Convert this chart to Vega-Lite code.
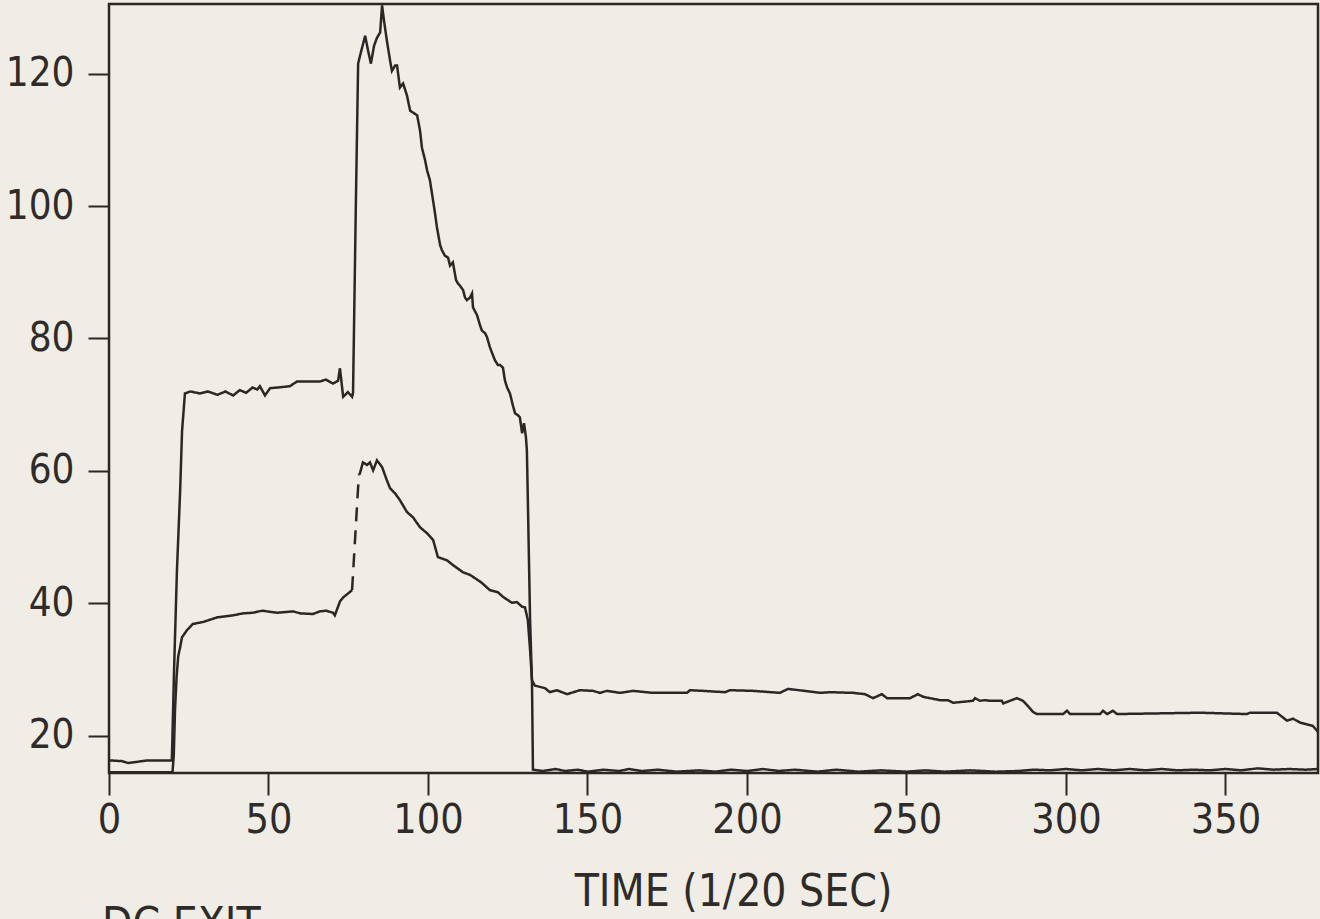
{
  "$schema": "https://vega.github.io/schema/vega-lite/v6.json",
  "autosize": {"type": "none"},
  "width": 1209,
  "height": 769,
  "padding": {"left": 109, "top": 4, "right": 2, "bottom": 160},
  "background": "#efede5",
  "config": {
    "view": {"stroke": "#2b2725", "strokeWidth": 2.5},
    "font": "DejaVu Sans Condensed, DejaVu Sans, sans-serif"
  },
  "title": {
    "text": "DC EXIT",
    "orient": "bottom",
    "anchor": "start",
    "frame": "group",
    "dx": -7,
    "offset": -10,
    "fontSize": 44,
    "fontWeight": "normal",
    "color": "#2f2b29",
    "font": "DejaVu Sans Condensed, DejaVu Sans, sans-serif"
  },
  "data": {
    "values": [
      {"t": 0, "v": 16.3, "s": "upper"},
      {"t": 4, "v": 16.2, "s": "upper"},
      {"t": 6, "v": 15.9, "s": "upper"},
      {"t": 9, "v": 16.1, "s": "upper"},
      {"t": 12, "v": 16.3, "s": "upper"},
      {"t": 16, "v": 16.3, "s": "upper"},
      {"t": 19.7, "v": 16.3, "s": "upper"},
      {"t": 20.4, "v": 30, "s": "upper"},
      {"t": 21.3, "v": 45, "s": "upper"},
      {"t": 22.3, "v": 57, "s": "upper"},
      {"t": 22.9, "v": 66, "s": "upper"},
      {"t": 23.8, "v": 71.7, "s": "upper"},
      {"t": 25.5, "v": 72.0, "s": "upper"},
      {"t": 28.5, "v": 71.7, "s": "upper"},
      {"t": 31, "v": 72.0, "s": "upper"},
      {"t": 34, "v": 71.5, "s": "upper"},
      {"t": 36.5, "v": 72.0, "s": "upper"},
      {"t": 38.9, "v": 71.4, "s": "upper"},
      {"t": 41, "v": 72.2, "s": "upper"},
      {"t": 43, "v": 71.8, "s": "upper"},
      {"t": 45, "v": 72.6, "s": "upper"},
      {"t": 46.5, "v": 72.3, "s": "upper"},
      {"t": 47.3, "v": 72.8, "s": "upper"},
      {"t": 48.9, "v": 71.4, "s": "upper"},
      {"t": 50.5, "v": 72.5, "s": "upper"},
      {"t": 53, "v": 72.6, "s": "upper"},
      {"t": 56.7, "v": 72.8, "s": "upper"},
      {"t": 58.9, "v": 73.5, "s": "upper"},
      {"t": 63.0, "v": 73.5, "s": "upper"},
      {"t": 66.1, "v": 73.5, "s": "upper"},
      {"t": 68, "v": 73.8, "s": "upper"},
      {"t": 70.2, "v": 73.2, "s": "upper"},
      {"t": 71.8, "v": 73.6, "s": "upper"},
      {"t": 72.4, "v": 75.5, "s": "upper"},
      {"t": 73.4, "v": 71.2, "s": "upper"},
      {"t": 74.9, "v": 71.9, "s": "upper"},
      {"t": 76.2, "v": 71.2, "s": "upper"},
      {"t": 76.5, "v": 71.8, "s": "upper"},
      {"t": 77.4, "v": 100.8, "s": "upper"},
      {"t": 78.1, "v": 121.5, "s": "upper"},
      {"t": 78.7, "v": 122.7, "s": "upper"},
      {"t": 80.3, "v": 125.7, "s": "upper"},
      {"t": 81.2, "v": 123.5, "s": "upper"},
      {"t": 82.1, "v": 121.5, "s": "upper"},
      {"t": 83.1, "v": 124.2, "s": "upper"},
      {"t": 84.0, "v": 125.4, "s": "upper"},
      {"t": 85.0, "v": 126.2, "s": "upper"},
      {"t": 85.6, "v": 130.3, "s": "upper"},
      {"t": 86.2, "v": 128.0, "s": "upper"},
      {"t": 87.1, "v": 125.0, "s": "upper"},
      {"t": 88.1, "v": 122.0, "s": "upper"},
      {"t": 88.7, "v": 120.4, "s": "upper"},
      {"t": 89.7, "v": 121.2, "s": "upper"},
      {"t": 90.3, "v": 121.2, "s": "upper"},
      {"t": 91.2, "v": 117.9, "s": "upper"},
      {"t": 92.2, "v": 118.5, "s": "upper"},
      {"t": 93.4, "v": 116.7, "s": "upper"},
      {"t": 94.4, "v": 114.4, "s": "upper"},
      {"t": 95.6, "v": 114.0, "s": "upper"},
      {"t": 96.6, "v": 113.7, "s": "upper"},
      {"t": 97.5, "v": 111.4, "s": "upper"},
      {"t": 98.1, "v": 108.8, "s": "upper"},
      {"t": 99.1, "v": 106.9, "s": "upper"},
      {"t": 99.7, "v": 105.4, "s": "upper"},
      {"t": 100.6, "v": 103.9, "s": "upper"},
      {"t": 101.6, "v": 100.8, "s": "upper"},
      {"t": 102.2, "v": 98.9, "s": "upper"},
      {"t": 102.8, "v": 96.8, "s": "upper"},
      {"t": 103.8, "v": 94.1, "s": "upper"},
      {"t": 104.4, "v": 93.3, "s": "upper"},
      {"t": 105.3, "v": 92.5, "s": "upper"},
      {"t": 106.3, "v": 92.2, "s": "upper"},
      {"t": 106.9, "v": 91.0, "s": "upper"},
      {"t": 107.8, "v": 91.5, "s": "upper"},
      {"t": 108.8, "v": 88.8, "s": "upper"},
      {"t": 109.4, "v": 88.3, "s": "upper"},
      {"t": 110.0, "v": 88.0, "s": "upper"},
      {"t": 111.0, "v": 87.3, "s": "upper"},
      {"t": 111.6, "v": 86.2, "s": "upper"},
      {"t": 112.2, "v": 85.8, "s": "upper"},
      {"t": 113.2, "v": 86.2, "s": "upper"},
      {"t": 113.8, "v": 86.8, "s": "upper"},
      {"t": 114.1, "v": 84.7, "s": "upper"},
      {"t": 115.4, "v": 83.5, "s": "upper"},
      {"t": 116.3, "v": 82.0, "s": "upper"},
      {"t": 116.9, "v": 81.2, "s": "upper"},
      {"t": 117.9, "v": 80.8, "s": "upper"},
      {"t": 118.5, "v": 80.2, "s": "upper"},
      {"t": 119.4, "v": 78.7, "s": "upper"},
      {"t": 120.1, "v": 77.8, "s": "upper"},
      {"t": 121.0, "v": 76.7, "s": "upper"},
      {"t": 121.9, "v": 76.0, "s": "upper"},
      {"t": 122.6, "v": 76.0, "s": "upper"},
      {"t": 123.5, "v": 75.6, "s": "upper"},
      {"t": 124.1, "v": 73.7, "s": "upper"},
      {"t": 124.8, "v": 72.6, "s": "upper"},
      {"t": 125.7, "v": 71.7, "s": "upper"},
      {"t": 126.6, "v": 69.9, "s": "upper"},
      {"t": 127.3, "v": 68.7, "s": "upper"},
      {"t": 128.2, "v": 68.4, "s": "upper"},
      {"t": 128.8, "v": 68.1, "s": "upper"},
      {"t": 129.5, "v": 65.7, "s": "upper"},
      {"t": 130.1, "v": 67.2, "s": "upper"},
      {"t": 130.7, "v": 65.1, "s": "upper"},
      {"t": 131.0, "v": 63.1, "s": "upper"},
      {"t": 131.3, "v": 55.6, "s": "upper"},
      {"t": 132.0, "v": 37.5, "s": "upper"},
      {"t": 132.6, "v": 28.0, "s": "upper"},
      {"t": 132.9, "v": 14.9, "s": "upper"},
      {"t": 136, "v": 14.7, "s": "upper"},
      {"t": 140, "v": 15.0, "s": "upper"},
      {"t": 143, "v": 14.7, "s": "upper"},
      {"t": 147, "v": 14.9, "s": "upper"},
      {"t": 150, "v": 14.6, "s": "upper"},
      {"t": 155, "v": 14.9, "s": "upper"},
      {"t": 160, "v": 14.7, "s": "upper"},
      {"t": 163, "v": 15.0, "s": "upper"},
      {"t": 167, "v": 14.7, "s": "upper"},
      {"t": 172, "v": 14.9, "s": "upper"},
      {"t": 178, "v": 14.6, "s": "upper"},
      {"t": 185, "v": 14.8, "s": "upper"},
      {"t": 190, "v": 14.6, "s": "upper"},
      {"t": 195, "v": 14.9, "s": "upper"},
      {"t": 200, "v": 14.7, "s": "upper"},
      {"t": 205, "v": 15.0, "s": "upper"},
      {"t": 210, "v": 14.7, "s": "upper"},
      {"t": 215, "v": 14.9, "s": "upper"},
      {"t": 222, "v": 14.6, "s": "upper"},
      {"t": 228, "v": 14.9, "s": "upper"},
      {"t": 235, "v": 14.6, "s": "upper"},
      {"t": 242, "v": 14.8, "s": "upper"},
      {"t": 250, "v": 14.6, "s": "upper"},
      {"t": 256, "v": 14.8, "s": "upper"},
      {"t": 262, "v": 14.6, "s": "upper"},
      {"t": 270, "v": 14.8, "s": "upper"},
      {"t": 278, "v": 14.6, "s": "upper"},
      {"t": 285, "v": 14.7, "s": "upper"},
      {"t": 290, "v": 14.9, "s": "upper"},
      {"t": 295, "v": 14.8, "s": "upper"},
      {"t": 300, "v": 15.0, "s": "upper"},
      {"t": 305, "v": 14.8, "s": "upper"},
      {"t": 310, "v": 15.0, "s": "upper"},
      {"t": 315, "v": 14.8, "s": "upper"},
      {"t": 320, "v": 15.0, "s": "upper"},
      {"t": 325, "v": 14.8, "s": "upper"},
      {"t": 330, "v": 15.0, "s": "upper"},
      {"t": 335, "v": 14.8, "s": "upper"},
      {"t": 340, "v": 14.9, "s": "upper"},
      {"t": 345, "v": 14.8, "s": "upper"},
      {"t": 350, "v": 15.0, "s": "upper"},
      {"t": 355, "v": 14.8, "s": "upper"},
      {"t": 360, "v": 15.1, "s": "upper"},
      {"t": 365, "v": 14.9, "s": "upper"},
      {"t": 370, "v": 15.0, "s": "upper"},
      {"t": 375, "v": 14.9, "s": "upper"},
      {"t": 379, "v": 15.0, "s": "upper"},

      {"t": 0, "v": 14.5, "s": "lowerA"},
      {"t": 19.9, "v": 14.5, "s": "lowerA"},
      {"t": 20.3, "v": 17, "s": "lowerA"},
      {"t": 20.7, "v": 24, "s": "lowerA"},
      {"t": 21.2, "v": 29, "s": "lowerA"},
      {"t": 21.7, "v": 32, "s": "lowerA"},
      {"t": 22.3, "v": 33.4, "s": "lowerA"},
      {"t": 22.9, "v": 34.9, "s": "lowerA"},
      {"t": 24.5, "v": 36.0, "s": "lowerA"},
      {"t": 26.3, "v": 36.9, "s": "lowerA"},
      {"t": 29.5, "v": 37.2, "s": "lowerA"},
      {"t": 33.9, "v": 37.9, "s": "lowerA"},
      {"t": 38.9, "v": 38.2, "s": "lowerA"},
      {"t": 42, "v": 38.5, "s": "lowerA"},
      {"t": 45.1, "v": 38.6, "s": "lowerA"},
      {"t": 48, "v": 38.9, "s": "lowerA"},
      {"t": 52.7, "v": 38.6, "s": "lowerA"},
      {"t": 57.7, "v": 38.8, "s": "lowerA"},
      {"t": 60, "v": 38.5, "s": "lowerA"},
      {"t": 63.9, "v": 38.4, "s": "lowerA"},
      {"t": 66.1, "v": 38.8, "s": "lowerA"},
      {"t": 68, "v": 38.9, "s": "lowerA"},
      {"t": 70.2, "v": 38.6, "s": "lowerA"},
      {"t": 70.8, "v": 38.2, "s": "lowerA"},
      {"t": 72.4, "v": 40.3, "s": "lowerA"},
      {"t": 73.4, "v": 40.9, "s": "lowerA"},
      {"t": 76.2, "v": 42.0, "s": "lowerA"},

      {"t": 76.2, "v": 42.0, "s": "lowerDash"},
      {"t": 78.1, "v": 57.6, "s": "lowerDash"},
      {"t": 78.4, "v": 59.5, "s": "lowerDash"},

      {"t": 78.4, "v": 59.5, "s": "lowerB"},
      {"t": 78.7, "v": 59.7, "s": "lowerB"},
      {"t": 79.6, "v": 61.3, "s": "lowerB"},
      {"t": 80.9, "v": 60.9, "s": "lowerB"},
      {"t": 81.8, "v": 61.3, "s": "lowerB"},
      {"t": 82.8, "v": 60.1, "s": "lowerB"},
      {"t": 84.0, "v": 61.6, "s": "lowerB"},
      {"t": 85.6, "v": 60.6, "s": "lowerB"},
      {"t": 87.1, "v": 58.6, "s": "lowerB"},
      {"t": 88.1, "v": 57.4, "s": "lowerB"},
      {"t": 89.7, "v": 56.6, "s": "lowerB"},
      {"t": 91.2, "v": 55.6, "s": "lowerB"},
      {"t": 93.4, "v": 53.8, "s": "lowerB"},
      {"t": 95.3, "v": 53.0, "s": "lowerB"},
      {"t": 97.5, "v": 51.5, "s": "lowerB"},
      {"t": 99.7, "v": 50.6, "s": "lowerB"},
      {"t": 101.6, "v": 49.6, "s": "lowerB"},
      {"t": 103.1, "v": 47.0, "s": "lowerB"},
      {"t": 106.0, "v": 46.5, "s": "lowerB"},
      {"t": 107.8, "v": 45.8, "s": "lowerB"},
      {"t": 111.0, "v": 44.7, "s": "lowerB"},
      {"t": 113.2, "v": 44.3, "s": "lowerB"},
      {"t": 115.7, "v": 43.5, "s": "lowerB"},
      {"t": 116.9, "v": 43.1, "s": "lowerB"},
      {"t": 119.4, "v": 42.0, "s": "lowerB"},
      {"t": 121.9, "v": 41.7, "s": "lowerB"},
      {"t": 123.5, "v": 41.0, "s": "lowerB"},
      {"t": 126.3, "v": 40.1, "s": "lowerB"},
      {"t": 127.9, "v": 40.2, "s": "lowerB"},
      {"t": 129.5, "v": 39.5, "s": "lowerB"},
      {"t": 130.4, "v": 39.4, "s": "lowerB"},
      {"t": 131.3, "v": 37.5, "s": "lowerB"},
      {"t": 132.0, "v": 33.0, "s": "lowerB"},
      {"t": 132.6, "v": 28.4, "s": "lowerB"},
      {"t": 133.5, "v": 27.6, "s": "lowerB"},
      {"t": 136.7, "v": 27.2, "s": "lowerB"},
      {"t": 138.2, "v": 26.6, "s": "lowerB"},
      {"t": 140.4, "v": 26.9, "s": "lowerB"},
      {"t": 143.6, "v": 26.3, "s": "lowerB"},
      {"t": 147.6, "v": 26.9, "s": "lowerB"},
      {"t": 151.7, "v": 26.8, "s": "lowerB"},
      {"t": 153.9, "v": 26.5, "s": "lowerB"},
      {"t": 156.1, "v": 26.8, "s": "lowerB"},
      {"t": 160.2, "v": 26.5, "s": "lowerB"},
      {"t": 164.3, "v": 26.8, "s": "lowerB"},
      {"t": 170.5, "v": 26.5, "s": "lowerB"},
      {"t": 175.9, "v": 26.5, "s": "lowerB"},
      {"t": 181.2, "v": 26.5, "s": "lowerB"},
      {"t": 182.1, "v": 26.9, "s": "lowerB"},
      {"t": 186.2, "v": 26.8, "s": "lowerB"},
      {"t": 193.1, "v": 26.6, "s": "lowerB"},
      {"t": 194.7, "v": 26.9, "s": "lowerB"},
      {"t": 201.9, "v": 26.8, "s": "lowerB"},
      {"t": 210.3, "v": 26.5, "s": "lowerB"},
      {"t": 212.9, "v": 27.1, "s": "lowerB"},
      {"t": 221.3, "v": 26.6, "s": "lowerB"},
      {"t": 222.9, "v": 26.5, "s": "lowerB"},
      {"t": 226.0, "v": 26.6, "s": "lowerB"},
      {"t": 233.2, "v": 26.5, "s": "lowerB"},
      {"t": 237.0, "v": 26.3, "s": "lowerB"},
      {"t": 239.5, "v": 25.7, "s": "lowerB"},
      {"t": 242.3, "v": 26.3, "s": "lowerB"},
      {"t": 243.9, "v": 25.7, "s": "lowerB"},
      {"t": 251.1, "v": 25.7, "s": "lowerB"},
      {"t": 253.6, "v": 26.3, "s": "lowerB"},
      {"t": 255.2, "v": 25.9, "s": "lowerB"},
      {"t": 260.5, "v": 25.4, "s": "lowerB"},
      {"t": 263.0, "v": 25.4, "s": "lowerB"},
      {"t": 264.6, "v": 25.0, "s": "lowerB"},
      {"t": 270.8, "v": 25.3, "s": "lowerB"},
      {"t": 271.5, "v": 25.7, "s": "lowerB"},
      {"t": 273.0, "v": 25.3, "s": "lowerB"},
      {"t": 274.6, "v": 25.4, "s": "lowerB"},
      {"t": 276.2, "v": 25.3, "s": "lowerB"},
      {"t": 279.9, "v": 25.3, "s": "lowerB"},
      {"t": 280.3, "v": 24.9, "s": "lowerB"},
      {"t": 282.4, "v": 25.3, "s": "lowerB"},
      {"t": 284.6, "v": 25.7, "s": "lowerB"},
      {"t": 286.5, "v": 25.3, "s": "lowerB"},
      {"t": 288.1, "v": 24.5, "s": "lowerB"},
      {"t": 289.7, "v": 23.6, "s": "lowerB"},
      {"t": 290.9, "v": 23.3, "s": "lowerB"},
      {"t": 299.1, "v": 23.3, "s": "lowerB"},
      {"t": 300.3, "v": 23.8, "s": "lowerB"},
      {"t": 301.3, "v": 23.3, "s": "lowerB"},
      {"t": 310.7, "v": 23.3, "s": "lowerB"},
      {"t": 311.6, "v": 23.8, "s": "lowerB"},
      {"t": 312.9, "v": 23.3, "s": "lowerB"},
      {"t": 314.7, "v": 23.8, "s": "lowerB"},
      {"t": 316.0, "v": 23.3, "s": "lowerB"},
      {"t": 342.0, "v": 23.5, "s": "lowerB"},
      {"t": 356.7, "v": 23.3, "s": "lowerB"},
      {"t": 357.7, "v": 23.5, "s": "lowerB"},
      {"t": 366.1, "v": 23.5, "s": "lowerB"},
      {"t": 369.3, "v": 22.3, "s": "lowerB"},
      {"t": 371.2, "v": 22.6, "s": "lowerB"},
      {"t": 373.4, "v": 22.0, "s": "lowerB"},
      {"t": 377.4, "v": 21.5, "s": "lowerB"},
      {"t": 379.0, "v": 20.6, "s": "lowerB"}
    ]
  },
  "mark": {"type": "line", "color": "#2b2725", "strokeWidth": 2.5, "clip": true},
  "encoding": {
    "x": {
      "field": "t",
      "type": "quantitative",
      "scale": {"domain": [0, 379], "nice": false, "zero": false},
      "axis": {
        "values": [0, 50, 100, 150, 200, 250, 300, 350],
        "title": "TIME (1/20 SEC)",
        "titleFontSize": 44,
        "titleFontWeight": "normal",
        "titleColor": "#2f2b29",
        "titleX": 624,
        "titleY": 132,
        "titleBaseline": "alphabetic",
        "titleAnchor": "middle",
        "titleAlign": "center",
        "labelFontSize": 41,
        "labelColor": "#2f2b29",
        "labelPadding": 5,
        "labelFlush": false,
        "tickSize": 22,
        "tickWidth": 2,
        "tickColor": "#2b2725",
        "domain": false,
        "grid": false
      }
    },
    "y": {
      "field": "v",
      "type": "quantitative",
      "scale": {"domain": [14.4, 130.5], "nice": false, "zero": false},
      "axis": {
        "values": [20, 40, 60, 80, 100, 120],
        "title": null,
        "labelFontSize": 40,
        "labelColor": "#2f2b29",
        "labelPadding": 14,
        "tickSize": 21,
        "tickWidth": 2,
        "tickColor": "#2b2725",
        "domain": false,
        "grid": false
      }
    },
    "strokeDash": {
      "field": "s",
      "type": "nominal",
      "scale": {
        "domain": ["upper", "lowerA", "lowerDash", "lowerB"],
        "range": [[1, 0], [1, 0], [14, 9], [1, 0]]
      },
      "legend": null
    }
  }
}
